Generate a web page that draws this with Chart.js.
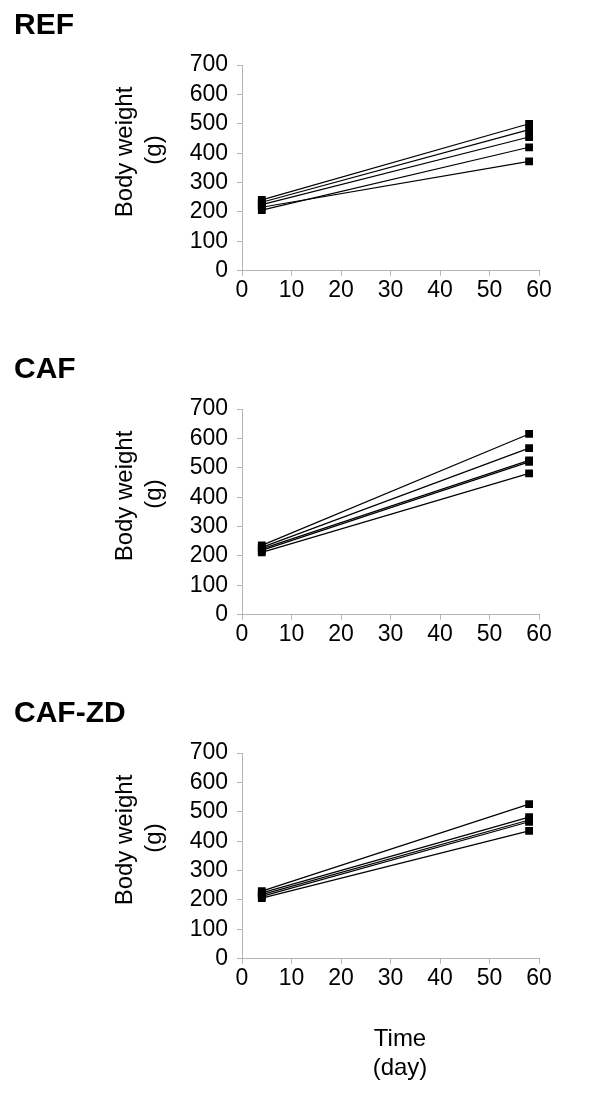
<!DOCTYPE html>
<html>
<head>
<meta charset="utf-8">
<script src="https://cdn.jsdelivr.net/npm/chart.js@4"></script>
<style>
  html, body { margin: 0; padding: 0; background: #fff; }
  body { width: 600px; height: 1116px; position: relative; overflow: hidden; }
  canvas { position: absolute; left: 0; }
</style>
</head>
<body>
<canvas id="c1" width="600" height="344" style="top:0px"></canvas>
<canvas id="c2" width="600" height="344" style="top:344px"></canvas>
<canvas id="c3" width="600" height="428" style="top:688px"></canvas>
<script>
// ---- data ----
const panelTitles = ['REF', 'CAF', 'CAF-ZD'];
const days = [4, 58];                 // measurement days
const xTicks = [0, 10, 20, 30, 40, 50, 60];
const yTicks = [0, 100, 200, 300, 400, 500, 600, 700];
const yTitle = ['Body weight', '(g)'];
const xTitle = ['Time', '(day)'];

// body weight per animal (g): start day, end day
const refStart   = [241, 233, 225, 216, 206];
const refEnd     = [500, 480, 455, 372, 420];
const cafStart   = [236, 229, 224, 219, 212];
const cafEnd     = [615, 567, 525, 520, 481];
const cafzdStart = [230, 224, 218, 212, 206];
const cafzdEnd   = [526, 482, 472, 466, 435];

const FONT = "'Liberation Sans', Arial, sans-serif";

// draws the multi-line axis titles relative to the chart area
const axisTitlePlugin = {
  id: 'axisTitles',
  afterDraw(chart, args, opts) {
    const ctx = chart.ctx;
    const ca = chart.chartArea;
    ctx.save();
    ctx.fillStyle = '#000';
    ctx.font = opts.font;
    ctx.textAlign = 'center';
    ctx.textBaseline = 'middle';
    (opts.items || []).forEach(it => {
      const x = (it.fromRight ? ca.right : ca.left) + it.dx;
      const y = (it.fromBottom ? ca.bottom : ca.top) + it.dy;
      ctx.save();
      ctx.translate(x, y);
      if (it.rotate) ctx.rotate(-Math.PI / 2);
      ctx.fillText(it.text, 0, 0);
      ctx.restore();
    });
    ctx.restore();
  }
};

function makeChart(id, title, starts, ends, showXTitle, canvasH) {
  const datasets = starts.map((s, i) => ({
    data: [{x: days[0], y: s}, {x: days[1], y: ends[i]}],
    borderColor: '#000',
    borderWidth: 1.2,
    pointStyle: 'rect',
    pointRadius: 5.5,
    pointBorderWidth: 0,
    pointBackgroundColor: '#000',
    fill: false,
    tension: 0
  }));
  const items = [
    {text: yTitle[0], dx: -117, dy: 87, rotate: true},
    {text: yTitle[1], dx: -88, dy: 85, rotate: true}
  ];
  if (showXTitle) {
    items.push({text: xTitle[0], dx: 158, dy: 81, fromBottom: true});
    items.push({text: xTitle[1], dx: 158, dy: 110, fromBottom: true});
  }
  const gray = '#b4b4b4';
  return new Chart(document.getElementById(id), {
    type: 'line',
    data: { datasets },
    plugins: [axisTitlePlugin],
    options: {
      responsive: false,
      animation: false,
      devicePixelRatio: 1,
      layout: { padding: { left: 14, right: 61, top: 0, bottom: canvasH - 270.7 - 50 } },
      plugins: {
        legend: { display: false },
        tooltip: { enabled: false },
        title: {
          display: true, text: title, align: 'start', color: '#000',
          font: { family: FONT, size: 30, weight: 'bold', lineHeight: 1.2 },
          padding: { top: 8, bottom: 21 }
        },
        axisTitles: { font: '24px ' + FONT, items }
      },
      scales: {
        x: {
          type: 'linear', min: 0, max: 60,
          afterBuildTicks: s => { s.ticks = xTicks.map(v => ({value: v})); },
          afterFit: s => { s.height = 50; },
          grid: { display: true, drawOnChartArea: false, drawTicks: true, tickLength: 5, color: gray },
          border: { display: true, color: gray, width: 1 },
          ticks: { color: '#000', padding: 1, autoSkip: false, maxRotation: 0, font: { family: FONT, size: 23 } }
        },
        y: {
          type: 'linear', min: 0, max: 700,
          afterBuildTicks: s => { s.ticks = yTicks.map(v => ({value: v})); },
          afterFit: s => { s.width = 228; },
          grid: { display: true, drawOnChartArea: false, drawTicks: true, tickLength: 5, color: gray },
          border: { display: true, color: gray, width: 1 },
          ticks: { color: '#000', padding: 9, autoSkip: false, font: { family: FONT, size: 23 } }
        }
      }
    }
  });
}

makeChart('c1', panelTitles[0], refStart, refEnd, false, 344);
makeChart('c2', panelTitles[1], cafStart, cafEnd, false, 344);
makeChart('c3', panelTitles[2], cafzdStart, cafzdEnd, true, 428);
</script>
</body>
</html>
